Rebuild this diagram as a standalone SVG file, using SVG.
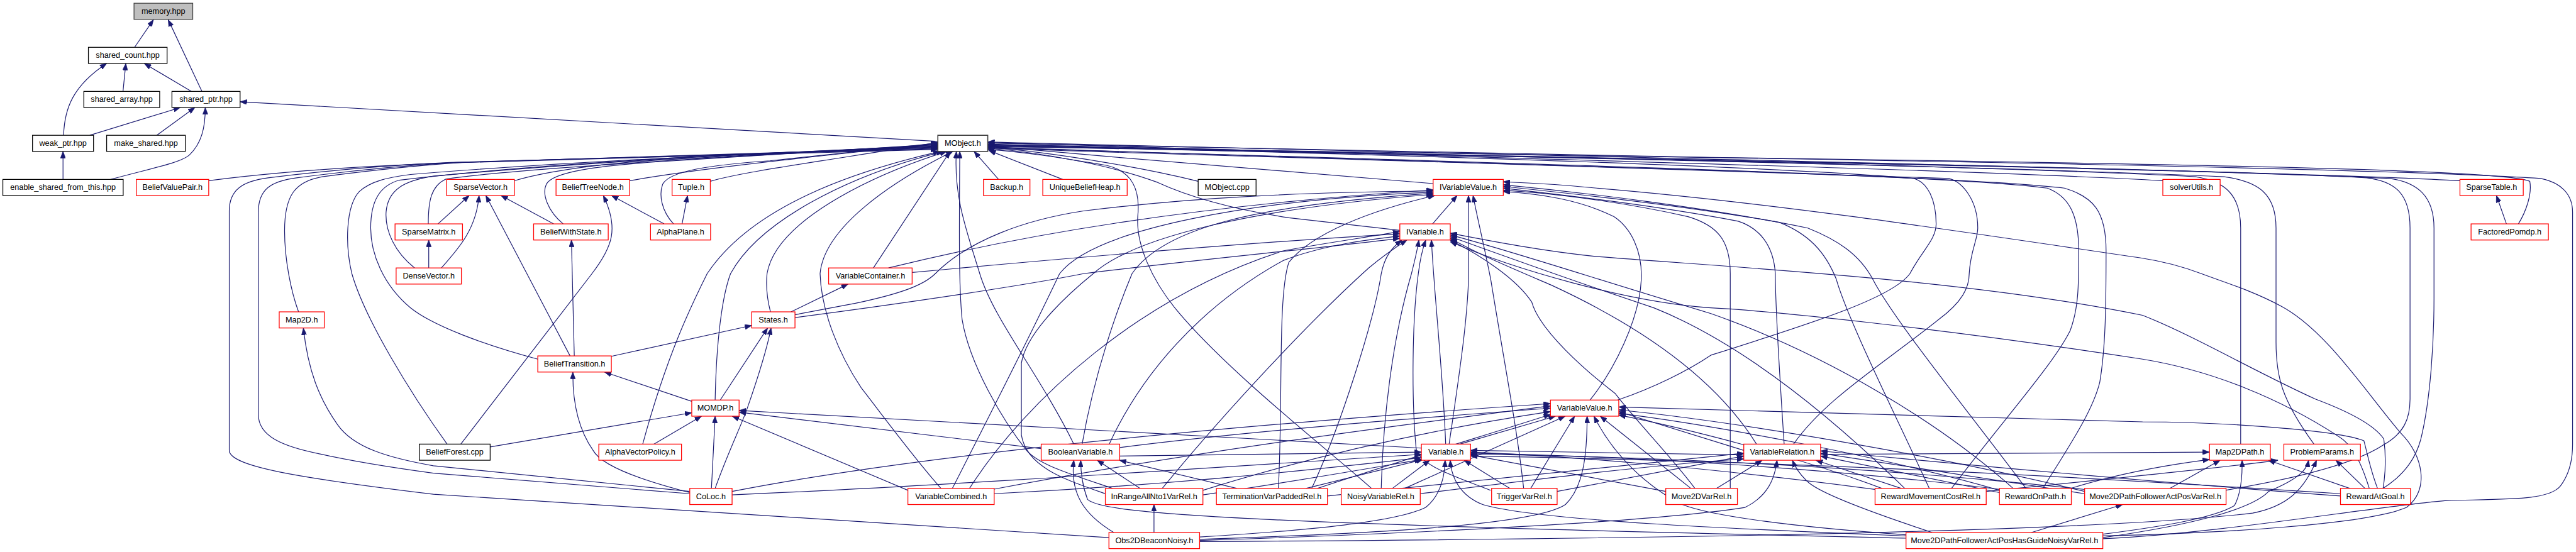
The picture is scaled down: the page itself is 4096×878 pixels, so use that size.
<svg xmlns="http://www.w3.org/2000/svg" width="4096" height="878" viewBox="0 0 4096 878">
<defs>
<style>
.e{fill:none;stroke:#191970;stroke-width:1.3;marker-end:url(#ah)}
rect{fill:#fff;stroke-width:1.4}
.red rect{stroke:#ff0000}
.blk rect{stroke:#000}
.root rect{fill:#bfbfbf;stroke:#404040}
text{font-family:"Liberation Sans",Arial,sans-serif;font-size:14px;text-anchor:middle;fill:#000}
</style>
<marker id="ah" markerUnits="userSpaceOnUse" markerWidth="12" markerHeight="9" viewBox="0 0 12 9" refX="12" refY="4.5" orient="auto"><path d="M0,0 L12,4.5 L0,9 z" fill="#191970" stroke="#191970" stroke-width="0.8"/></marker>
</defs>
<rect width="4096" height="878" fill="#fff"/>
<g transform="scale(0.906797)">
<g id="edges">
<path class="e" d="M236,83 L269,34.6"/>
<path class="e" d="M354,160.3 L295,34.6"/>
<path class="e" d="M111.5,237.3 C113,190 128,150 187,111.3"/>
<path class="e" d="M215.7,160.3 L220.6,111.3"/>
<path class="e" d="M335.4,160.3 L253,111.3"/>
<path class="e" d="M157.5,237.3 L316,188.6"/>
<path class="e" d="M274.8,237.3 L341.7,188.6"/>
<path class="e" d="M194,314.7 C262,296 316,286 332,272 C353,252 360,225 360,188.6"/>
<path class="e" d="M110.5,314.7 L110.5,265.6"/>
<path class="e" d="M1644.5,248 L421,178.5"/>
<path class="e" d="M366,317 C480,302 620,292 780,286 L1644.5,262"/>
<path class="e" d="M1944.5,943 L760,867 C520,838 402,818 402,790 L402,370 C402,333 425,318 470,312 C580,298 680,290 790,285 L1644.5,261"/>
<path class="e" d="M1209.5,866 L760,830 C650,815 600,805 560,796 C495,783 453,765 453,727 L453,372 C453,332 475,318 520,312 C610,300 700,291 800,285 L1644.5,260"/>
<path class="e" d="M1209.5,862 L760,817 C680,803 620,785 592,745 C560,700 540,650 532,575.5"/>
<path class="e" d="M523.5,547 C510,510 499,455 499,405 C499,342 518,318 565,310 C650,299 720,291 810,285 L1644.5,259"/>
<path class="e" d="M784,779 C720,690 640,560 617,480 C605,430 606,362 630,336 C650,318 680,311 720,306 C900,291 1200,273 1644.5,258"/>
<path class="e" d="M943,630 C850,605 760,572 720,540 C672,500 650,445 650,400 C650,352 666,326 700,316 C900,292 1200,272 1644.5,257"/>
<path class="e" d="M727,470 C692,442 675,405 677,372 C680,333 708,317 760,309 C1000,287 1300,269 1644.5,256"/>
<path class="e" d="M751,392.7 C751,352 756,326 782,314 C900,296 1300,273 1644.5,255"/>
<path class="e" d="M751.8,470 L751.8,421"/>
<path class="e" d="M768,392.7 L822.7,343"/>
<path class="e" d="M774,470 C800,440 835,405 840,343"/>
<path class="e" d="M999.6,624.3 L852,343"/>
<path class="e" d="M970.6,392.7 L878.5,343"/>
<path class="e" d="M902,317 C960,300 1050,288 1150,281 L1644.5,254"/>
<path class="e" d="M1104,317 C1200,300 1350,282 1644.5,252"/>
<path class="e" d="M1245.4,318 C1300,302 1400,289 1644.5,250"/>
<path class="e" d="M987.5,392.7 C960,370 950,340 958,323 C970,301 1050,291 1150,284 L1644.5,253"/>
<path class="e" d="M1181,392.7 C1160,370 1155,342 1162,323 C1175,299 1250,289 1350,282 L1644.5,251"/>
<path class="e" d="M1196,392.7 L1205.6,343"/>
<path class="e" d="M1164.5,392.7 L1072.3,343"/>
<path class="e" d="M808,779 L1038,480 C1075,432 1085,400 1058,343"/>
<path class="e" d="M1007,624.3 L1002,421"/>
<path class="e" d="M1072,625 L1318,571"/>
<path class="e" d="M1213,704 L1060,652.6"/>
<path class="e" d="M1209.5,864 C1100,836 1052,812 1040,790 C1012,750 1004,700 1004.5,652.6"/>
<path class="e" d="M1263,701.7 L1346,575.3"/>
<path class="e" d="M1254,856.7 C1274,800 1298,750 1309,720 C1330,660 1345,612 1352,575.3"/>
<path class="e" d="M1247.5,856.7 L1254,730"/>
<path class="e" d="M859.5,784 L1213,724"/>
<path class="e" d="M1146.5,779 L1230,730"/>
<path class="e" d="M1127,779 C1170,620 1215,530 1240,480 C1320,360 1500,300 1648,265.6"/>
<path class="e" d="M1254,701.7 C1256,600 1266,520 1281,480 C1330,390 1480,310 1654,265.6"/>
<path class="e" d="M1351,547 C1344,520 1343,500 1345,480 C1360,390 1520,310 1660,265.6"/>
<path class="e" d="M1387,547 L1487,498.3"/>
<path class="e" d="M1531.5,470 L1666,265.6"/>
<path class="e" d="M1650,856.7 C1600,800 1545,725 1510,680 C1470,620 1440,545 1438,480 C1445,400 1560,320 1671,265.6"/>
<path class="e" d="M1883,779 C1822,655 1742,560 1718,480 C1695,405 1672,345 1677,265.6"/>
<path class="e" d="M1951,856.7 C1872,830 1822,815 1800,790 C1760,740 1700,640 1687,560 C1681,500 1682,400 1683,265.6"/>
<path class="e" d="M1751,314.7 L1708,265.6"/>
<path class="e" d="M1863.5,314.7 L1734,264"/>
<path class="e" d="M2101,318 C2000,293 1850,268 1732,258"/>
<path class="e" d="M2513,322 C2300,305 2000,280 1732,256"/>
<path class="e" d="M2454.6,404 L2260,382 C2150,365 2080,343 2030,320 C1950,290 1830,268 1732,260"/>
<path class="e" d="M2405,856.7 C2330,790 2150,650 2060,540 C2020,490 1992,430 1995,380 C2000,332 1985,300 1940,290 C1850,275 1790,266 1732,262"/>
<path class="e" d="M2836.5,701.7 C2900,680 2960,650 3000,623 C3200,560 3320,520 3349,480 C3370,440 3395,420 3395,393 C3395,350 3380,320 3356,313 C3100,290 2400,270 1732,254"/>
<path class="e" d="M3792.5,317 C3500,300 2800,282 1732,250"/>
<path class="e" d="M4313.5,317 C4000,300 3000,280 1732,249"/>
<path class="e" d="M4416,392.7 C4430,370 4440,340 4436,318 C4400,300 4000,290 3000,276 L1732,251"/>
<path class="e" d="M4395,392.7 L4377.5,343"/>
<path class="e" d="M3929,779 L3929,400 C3929,340 3900,318 3850,310 C3500,292 2800,277 1732,253"/>
<path class="e" d="M4057.5,779 C4000,700 3991,660 3991,600 L3991,400 C3991,340 3960,318 3900,310 C3500,292 2800,278 1732,254"/>
<path class="e" d="M3902,860 C3990,845 4120,820 4180,780 C4215,760 4226,735 4226,700 L4226,400 C4226,340 4200,318 4150,312 C3800,293 2800,278 1732,255"/>
<path class="e" d="M4178.7,856.7 C4220,830 4237,800 4245,770 C4262,700 4268,600 4268,523 L4268,400 C4268,345 4240,320 4190,313 C3800,294 2800,279 1732,256"/>
<path class="e" d="M3687.3,945 C3900,935 4150,890 4290,878 C4400,875 4470,878 4490,852 C4508,828 4511,800 4511,780 L4511,372 C4511,340 4490,320 4455,313 C4200,297 3500,282 1732,257"/>
<path class="e" d="M3145,779 C3200,700 3300,640 3400,560 C3440,530 3453,505 3453,480 C3455,440 3468,420 3468,400 C3468,350 3440,318 3417,313 C3000,295 2400,280 1732,258"/>
<path class="e" d="M3422,856.7 C3510,740 3600,640 3630,580 C3645,540 3645,500 3645,440 C3645,380 3630,345 3590,330 C3400,305 2600,285 1732,259"/>
<path class="e" d="M3582,856.7 C3630,780 3670,720 3682,670 C3692,610 3693,540 3693,440 C3693,370 3670,345 3620,330 C3400,305 2600,288 1732,260"/>
<path class="e" d="M2512,392.7 L2555,343"/>
<path class="e" d="M2541,779 C2560,650 2573,560 2575,490 L2575,343"/>
<path class="e" d="M2671.7,856.7 C2660,750 2640,650 2614,490 C2600,420 2590,380 2583,343"/>
<path class="e" d="M1558,470 C1800,410 2100,360 2513,333"/>
<path class="e" d="M1394,552 L1500,532 C1580,515 1620,500 1640,480 C1700,420 1800,385 1900,370 C2100,345 2300,337 2513,335"/>
<path class="e" d="M1670,856.7 C1750,700 1820,560 1858,480 C1920,400 2200,350 2513,337"/>
<path class="e" d="M1897.5,779 C1920,650 1960,540 1985,480 C2040,400 2200,360 2513,339"/>
<path class="e" d="M1938.2,866 C1870,842 1800,820 1791,763 L1791,637 C1800,580 1880,510 1917,480 C1990,415 2200,365 2513,341"/>
<path class="e" d="M2241.6,856.7 C2250,700 2240,520 2260,460 C2300,410 2400,370 2516,343"/>
<path class="e" d="M2788,701.7 C2830,650 2875,560 2878,490 C2880,440 2860,400 2830,380 C2770,350 2700,340 2636,336"/>
<path class="e" d="M3034,856.7 L3034,480 C3034,420 3010,395 2960,380 C2850,355 2720,338 2636,334"/>
<path class="e" d="M3128.5,779 C3120,650 3113,540 3113,480 C3110,430 3085,400 3048,388 C2900,360 2750,343 2636,330"/>
<path class="e" d="M3383,856.7 C3320,720 3240,560 3220,490 C3200,440 3170,410 3120,390 C2950,360 2760,340 2636,327"/>
<path class="e" d="M3552.6,856.7 C3450,720 3320,560 3284,490 C3260,445 3220,420 3170,400 C3000,365 2780,338 2636,324"/>
<path class="e" d="M3687.3,940 C3900,935 4150,920 4220,890 C4260,860 4250,800 4210,760 C4150,690 4080,580 4000,537 C3950,510 3900,495 3860,480 C3820,465 3790,458 3757,453 C3400,400 3100,355 2800,330 C2750,325 2690,321 2636,319"/>
<path class="e" d="M2535,779 C2530,650 2515,520 2510,421"/>
<path class="e" d="M2422,856.7 C2425,740 2440,600 2475,480 C2480,460 2485,440 2488,421"/>
<path class="e" d="M2613.5,860 C2550,835 2485,815 2483,785 C2475,700 2476,560 2487,480 C2490,455 2495,435 2500,421"/>
<path class="e" d="M2038,856.7 C2150,720 2300,560 2400,470 C2430,445 2450,432 2467,421"/>
<path class="e" d="M2300,856.7 C2350,750 2410,560 2422,480 C2428,450 2440,435 2458,421"/>
<path class="e" d="M1394,557 C1600,530 1800,500 1900,480 C2100,455 2300,437 2454.6,418"/>
<path class="e" d="M1599.4,478 C1900,450 2200,425 2454.6,410"/>
<path class="e" d="M1945,779 C2000,660 2100,540 2250,457 C2320,430 2400,420 2454.6,414"/>
<path class="e" d="M1700,856.7 C1800,700 2000,520 2250,440 C2330,425 2400,416 2454.6,406"/>
<path class="e" d="M2972,856.7 C2930,800 2870,740 2832,690 C2780,650 2700,580 2686,530 C2660,490 2600,450 2543,421"/>
<path class="e" d="M3080,779 C3000,650 2850,560 2720,500 C2650,470 2590,445 2543,418"/>
<path class="e" d="M3340,856.7 C3200,720 3050,600 2900,540 C2750,490 2640,450 2543,415"/>
<path class="e" d="M3530,856.7 C3400,740 3200,620 3000,550 C2800,490 2650,440 2543,412"/>
<path class="e" d="M4178.7,856.7 C4183,830 4184,800 4180,770 C4160,740 4100,715 4060,700 C3950,650 3850,590 3757,553 C3450,490 3050,470 2800,450 C2700,440 2600,420 2543,409"/>
<path class="e" d="M4154.5,856.7 C4140,810 4125,780 4100,765 C4000,700 3880,650 3757,630 C3400,575 3100,545 3000,540 C2850,530 2650,470 2543,424"/>
<path class="e" d="M2560,779 L2727.5,730"/>
<path class="e" d="M2463,856.7 L2744.5,730"/>
<path class="e" d="M2684,856.7 L2761,730"/>
<path class="e" d="M2103.5,946 C2400,936 2690,922 2745,885 C2776,855 2783,800 2783,730"/>
<path class="e" d="M3342.2,938 C3150,925 3000,905 2950,885 C2890,855 2830,800 2795,730"/>
<path class="e" d="M2965,856.7 L2806,730"/>
<path class="e" d="M1963.4,785 C2200,755 2500,732 2718.7,716"/>
<path class="e" d="M1743.3,858 C2100,790 2500,740 2718.7,712"/>
<path class="e" d="M2109.3,860 C2300,800 2500,755 2718.7,722"/>
<path class="e" d="M1283.7,862 C1600,800 2100,750 2718.7,708"/>
<path class="e" d="M2310,856.7 C2450,810 2600,765 2718.7,727"/>
<path class="e" d="M3057.7,790 L2838.5,722"/>
<path class="e" d="M3300,856.7 C3150,800 2950,750 2838.5,728"/>
<path class="e" d="M3506,860 C3300,800 3000,745 2838.5,725"/>
<path class="e" d="M3655.4,862 C3400,800 3050,740 2838.5,719"/>
<path class="e" d="M4169,856.7 C4155,820 4150,790 4145,773 C4100,755 3900,740 3757,740 C3400,730 3000,718 2838.5,714"/>
<path class="e" d="M1963.4,800 L2492.4,793"/>
<path class="e" d="M1743.3,866 C2100,848 2350,818 2492.4,803"/>
<path class="e" d="M1283.7,868 C1700,850 2200,815 2492.4,797"/>
<path class="e" d="M2290,856.7 L2495,806"/>
<path class="e" d="M2109.3,868 C2300,840 2420,818 2492.4,806"/>
<path class="e" d="M2441.5,856.7 L2507,807.3"/>
<path class="e" d="M2103.5,942 C2300,930 2450,915 2500,890 C2525,870 2533,840 2534,807.3"/>
<path class="e" d="M3342.2,940 C3100,930 2700,915 2600,885 C2562,870 2545,840 2543,807.3"/>
<path class="e" d="M2647.5,856.7 L2567.5,807.3"/>
<path class="e" d="M3057.7,798 L2578.6,790"/>
<path class="e" d="M2920.9,862 L2578.6,798"/>
<path class="e" d="M3300,860 C3000,820 2750,800 2578.6,793"/>
<path class="e" d="M3520,860 C3200,820 2850,800 2578.6,795"/>
<path class="e" d="M3670,860 C3300,820 2900,800 2578.6,797"/>
<path class="e" d="M4104,866 C3700,840 3200,810 2578.6,800"/>
<path class="e" d="M2730.4,862 L3057.7,800"/>
<path class="e" d="M2490.4,866 C2700,840 2900,815 3057.7,805"/>
<path class="e" d="M2327.6,870 C2600,840 2850,815 3057.7,795"/>
<path class="e" d="M3010,856.7 L3090,807.3"/>
<path class="e" d="M2103.5,948 C2500,935 2900,915 3060,890 C3100,870 3112,840 3116,807.3"/>
<path class="e" d="M3388,934 C3300,905 3200,870 3172,847 C3155,832 3148,820 3143,807.3"/>
<path class="e" d="M3334,856.7 L3184,807.3"/>
<path class="e" d="M3506,864 L3192.4,800"/>
<path class="e" d="M3655.4,866 L3192.4,795"/>
<path class="e" d="M4104,870 C3700,840 3400,810 3192.4,791"/>
<path class="e" d="M3192.4,797 L3874.3,793"/>
<path class="e" d="M3630,857 C3700,835 3780,818 3874.3,806"/>
<path class="e" d="M3805,856.7 L3893,807.3"/>
<path class="e" d="M3687.3,937 C3780,925 3880,910 3918,887 C3930,865 3932,835 3931.5,807.3"/>
<path class="e" d="M4120.5,856.7 L3977.5,807.3"/>
<path class="e" d="M3482.8,862 C3700,840 3900,820 3994.5,807.3"/>
<path class="e" d="M3687.3,943 C3850,920 3950,892 3978,862 C4030,840 4045,825 4048,807.3"/>
<path class="e" d="M2103.5,950 C3000,945 3700,930 3950,900 C4010,888 4040,860 4062,807.3"/>
<path class="e" d="M4147,856.7 L4096,807.3"/>
<path class="e" d="M3562,934 L3722,885"/>
<path class="e" d="M3342.2,944 C3000,936 2500,925 2200,910 C2000,900 1922,890 1907,876 C1898,852 1895,830 1895,807.3"/>
<path class="e" d="M2023.5,934 L2023.5,885"/>
<path class="e" d="M1953,934 C1900,902 1876,865 1883,807.3"/>
<path class="e" d="M1999,856.7 L1924,807.3"/>
<path class="e" d="M2169,856.7 L1963,807.3"/>
<path class="e" d="M1825.7,787 L1296,723"/>
<path class="e" d="M2492.4,786 C2000,760 1600,735 1296,720"/>
<path class="e" d="M1592,860 L1284,730"/>
</g>
<g id="n_memory" class="root"><rect x="235" y="5.7" width="103" height="28.3"/><text x="286.5" y="24.2">memory.hpp</text></g>
<g id="n_shared_count" class="blk"><rect x="155" y="83" width="138" height="28.3"/><text x="224" y="101.5">shared_count.hpp</text></g>
<g id="n_shared_array" class="blk"><rect x="147" y="160.3" width="133" height="28.3"/><text x="213.5" y="178.8">shared_array.hpp</text></g>
<g id="n_shared_ptr" class="blk"><rect x="301.5" y="160.3" width="119.5" height="28.3"/><text x="361.25" y="178.8">shared_ptr.hpp</text></g>
<g id="n_weak_ptr" class="blk"><rect x="57" y="237.3" width="107" height="28.3"/><text x="110.5" y="255.8">weak_ptr.hpp</text></g>
<g id="n_make_shared" class="blk"><rect x="187" y="237.3" width="138" height="28.3"/><text x="256" y="255.8">make_shared.hpp</text></g>
<g id="n_MObject_h" class="blk"><rect x="1644.5" y="237.3" width="87.5" height="28.3" style="stroke:#404040;stroke-width:1.8"/><text x="1688.25" y="255.8">MObject.h</text></g>
<g id="n_enable_shared" class="blk"><rect x="5" y="314.7" width="211" height="28.3"/><text x="110.5" y="333.2">enable_shared_from_this.hpp</text></g>
<g id="n_BeliefValuePair" class="red"><rect x="239" y="314.7" width="127" height="28.3"/><text x="302.5" y="333.2">BeliefValuePair.h</text></g>
<g id="n_SparseVector" class="red"><rect x="783" y="314.7" width="119" height="28.3"/><text x="842.5" y="333.2">SparseVector.h</text></g>
<g id="n_BeliefTreeNode" class="red"><rect x="975" y="314.7" width="129" height="28.3"/><text x="1039.5" y="333.2">BeliefTreeNode.h</text></g>
<g id="n_Tuple" class="red"><rect x="1178.5" y="314.7" width="67" height="28.3"/><text x="1212" y="333.2">Tuple.h</text></g>
<g id="n_Backup" class="red"><rect x="1724.5" y="314.7" width="81.5" height="28.3"/><text x="1765.25" y="333.2">Backup.h</text></g>
<g id="n_UniqueBeliefHeap" class="red"><rect x="1828.5" y="314.7" width="148" height="28.3"/><text x="1902.5" y="333.2">UniqueBeliefHeap.h</text></g>
<g id="n_MObject_cpp" class="blk"><rect x="2101" y="314.7" width="101.5" height="28.3"/><text x="2151.75" y="333.2">MObject.cpp</text></g>
<g id="n_IVariableValue" class="red"><rect x="2513" y="314.7" width="123" height="28.3"/><text x="2574.5" y="333.2">IVariableValue.h</text></g>
<g id="n_solverUtils" class="red"><rect x="3792.5" y="314.7" width="100.5" height="28.3"/><text x="3842.75" y="333.2">solverUtils.h</text></g>
<g id="n_SparseTable" class="red"><rect x="4313.5" y="314.7" width="111" height="28.3"/><text x="4369" y="333.2">SparseTable.h</text></g>
<g id="n_SparseMatrix" class="red"><rect x="692.7" y="392.7" width="118.3" height="28.3"/><text x="751.85" y="411.2">SparseMatrix.h</text></g>
<g id="n_BeliefWithState" class="red"><rect x="935.7" y="392.7" width="130.8" height="28.3"/><text x="1001.1" y="411.2">BeliefWithState.h</text></g>
<g id="n_AlphaPlane" class="red"><rect x="1140.7" y="392.7" width="105.3" height="28.3"/><text x="1193.35" y="411.2">AlphaPlane.h</text></g>
<g id="n_IVariable" class="red"><rect x="2454.6" y="392.7" width="88.4" height="28.3"/><text x="2498.8" y="411.2">IVariable.h</text></g>
<g id="n_FactoredPomdp" class="red"><rect x="4333" y="392.7" width="135.6" height="28.3"/><text x="4400.8" y="411.2">FactoredPomdp.h</text></g>
<g id="n_DenseVector" class="red"><rect x="694.6" y="470" width="114.4" height="28.3"/><text x="751.8" y="488.5">DenseVector.h</text></g>
<g id="n_VariableContainer" class="red"><rect x="1453" y="470" width="146.4" height="28.3"/><text x="1526.2" y="488.5">VariableContainer.h</text></g>
<g id="n_Map2D" class="red"><rect x="489.6" y="547" width="79" height="28.3"/><text x="529.1" y="565.5">Map2D.h</text></g>
<g id="n_States" class="red"><rect x="1318" y="547" width="76" height="28.3"/><text x="1356" y="565.5">States.h</text></g>
<g id="n_BeliefTransition" class="red"><rect x="943" y="624.3" width="129" height="28.3"/><text x="1007.5" y="642.8">BeliefTransition.h</text></g>
<g id="n_MOMDP" class="red"><rect x="1213" y="701.7" width="83" height="28.3"/><text x="1254.5" y="720.2">MOMDP.h</text></g>
<g id="n_VariableValue" class="red"><rect x="2718.7" y="701.7" width="119.8" height="28.3"/><text x="2778.6" y="720.2">VariableValue.h</text></g>
<g id="n_BeliefForest" class="blk"><rect x="735.3" y="779" width="124.2" height="28.3"/><text x="797.4" y="797.5">BeliefForest.cpp</text></g>
<g id="n_AlphaVectorPolicy" class="red"><rect x="1050" y="779" width="145" height="28.3"/><text x="1122.5" y="797.5">AlphaVectorPolicy.h</text></g>
<g id="n_BooleanVariable" class="red"><rect x="1825.7" y="779" width="137.7" height="28.3"/><text x="1894.55" y="797.5">BooleanVariable.h</text></g>
<g id="n_Variable" class="red"><rect x="2492.4" y="779" width="86.2" height="28.3"/><text x="2535.5" y="797.5">Variable.h</text></g>
<g id="n_VariableRelation" class="red"><rect x="3057.7" y="779" width="134.7" height="28.3"/><text x="3125.05" y="797.5">VariableRelation.h</text></g>
<g id="n_Map2DPath" class="red"><rect x="3874.3" y="779" width="106.7" height="28.3"/><text x="3927.65" y="797.5">Map2DPath.h</text></g>
<g id="n_ProblemParams" class="red"><rect x="4004.7" y="779" width="134.3" height="28.3"/><text x="4071.85" y="797.5">ProblemParams.h</text></g>
<g id="n_CoLoc" class="red"><rect x="1209.5" y="856.7" width="74.2" height="28.3"/><text x="1246.6" y="875.2">CoLoc.h</text></g>
<g id="n_VariableCombined" class="red"><rect x="1592" y="856.7" width="151.3" height="28.3"/><text x="1667.65" y="875.2">VariableCombined.h</text></g>
<g id="n_InRange" class="red"><rect x="1938.2" y="856.7" width="171.1" height="28.3"/><text x="2023.75" y="875.2">InRangeAllNto1VarRel.h</text></g>
<g id="n_TerminationVarPaddedRel" class="red"><rect x="2133" y="856.7" width="194.6" height="28.3"/><text x="2230.3" y="875.2">TerminationVarPaddedRel.h</text></g>
<g id="n_NoisyVariableRel" class="red"><rect x="2351.8" y="856.7" width="138.6" height="28.3"/><text x="2421.1" y="875.2">NoisyVariableRel.h</text></g>
<g id="n_TriggerVarRel" class="red"><rect x="2615.5" y="856.7" width="114.9" height="28.3"/><text x="2672.95" y="875.2">TriggerVarRel.h</text></g>
<g id="n_Move2DVarRel" class="red"><rect x="2920.9" y="856.7" width="125.6" height="28.3"/><text x="2983.7" y="875.2">Move2DVarRel.h</text></g>
<g id="n_RewardMovementCostRel" class="red"><rect x="3287.9" y="856.7" width="194.9" height="28.3"/><text x="3385.35" y="875.2">RewardMovementCostRel.h</text></g>
<g id="n_RewardOnPath" class="red"><rect x="3506" y="856.7" width="126" height="28.3"/><text x="3569" y="875.2">RewardOnPath.h</text></g>
<g id="n_Move2DPathFollowerActPosVarRel" class="red"><rect x="3655.4" y="856.7" width="248" height="28.3"/><text x="3779.4" y="875.2">Move2DPathFollowerActPosVarRel.h</text></g>
<g id="n_RewardAtGoal" class="red"><rect x="4104" y="856.7" width="122.7" height="28.3"/><text x="4165.35" y="875.2">RewardAtGoal.h</text></g>
<g id="n_Obs2DBeaconNoisy" class="red"><rect x="1944.5" y="934" width="159" height="28.3"/><text x="2024" y="952.5">Obs2DBeaconNoisy.h</text></g>
<g id="n_Move2DPathHasGuide" class="red"><rect x="3342.2" y="934" width="345.1" height="28.3"/><text x="3514.75" y="952.5">Move2DPathFollowerActPosHasGuideNoisyVarRel.h</text></g>
</g>
</svg>
